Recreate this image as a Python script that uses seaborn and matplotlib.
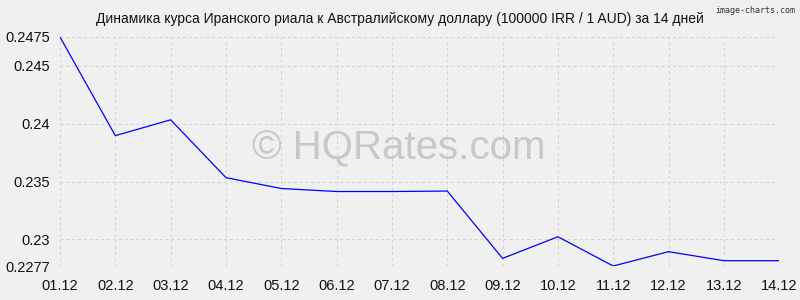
import matplotlib
matplotlib.use("Agg")
import matplotlib.pyplot as plt
import seaborn as sns
import pandas as pd

dates = ["01.12", "02.12", "03.12", "04.12", "05.12", "06.12", "07.12",
         "08.12", "09.12", "10.12", "11.12", "12.12", "13.12", "14.12"]
rates = [0.2475, 0.23897, 0.24034, 0.23534, 0.2344, 0.23414, 0.23414,
         0.23418, 0.22836, 0.23023, 0.2277, 0.22894, 0.22816, 0.22816]
ytick_vals = [0.2277, 0.23, 0.235, 0.24, 0.245, 0.2475]
ytick_labels = ["0.2277", "0.23", "0.235", "0.24", "0.245", "0.2475"]
title = "Динамика курса Иранского риала к Австралийскому доллару (100000 IRR / 1 AUD) за 14 дней"

df = pd.DataFrame({"pos": range(len(dates)), "rate": rates})

plt.rcParams['font.family'] = ['Liberation Sans', 'DejaVu Sans']
bg = "#f0f0f0"
fig = plt.figure(figsize=(8, 3), dpi=100, facecolor=bg)
ax = fig.add_axes([0.075, 0.1133, 0.899, 0.7634])
ax.set_facecolor(bg)

sns.lineplot(data=df, x="pos", y="rate", ax=ax, color="#0000ff", linewidth=0.9, zorder=3)

ax.set_xlim(0, len(dates) - 1)
ax.set_ylim(0.2277, 0.2475)
ax.set_xticks(range(len(dates)))
ax.set_xticklabels(dates)
ax.set_yticks(ytick_vals)
ax.set_yticklabels(ytick_labels)
ax.set_xlabel("")
ax.set_ylabel("")
for s in ax.spines.values():
    s.set_visible(False)
ax.grid(True, color="#d2d2d2", linestyle=(0, (3, 3)), linewidth=0.7, zorder=0)
ax.tick_params(axis="both", length=0, labelsize=10.5, colors="#111111")
ax.tick_params(axis="x", pad=9)
ax.tick_params(axis="y", pad=7)

fig.text(0.5, 0.935, title, ha="center", va="center", fontsize=10, color="#111111")
fig.text(0.499, 0.505, "© HQRates.com", ha="center", va="center", fontsize=29,
         color="#c8c8c8", zorder=1)
fig.text(0.994, 0.965, "image-charts.com", ha="right", va="center", fontsize=6,
         color="#333333", family=["DejaVu Sans Mono"])

fig.savefig("out.png", dpi=100, facecolor=bg)
